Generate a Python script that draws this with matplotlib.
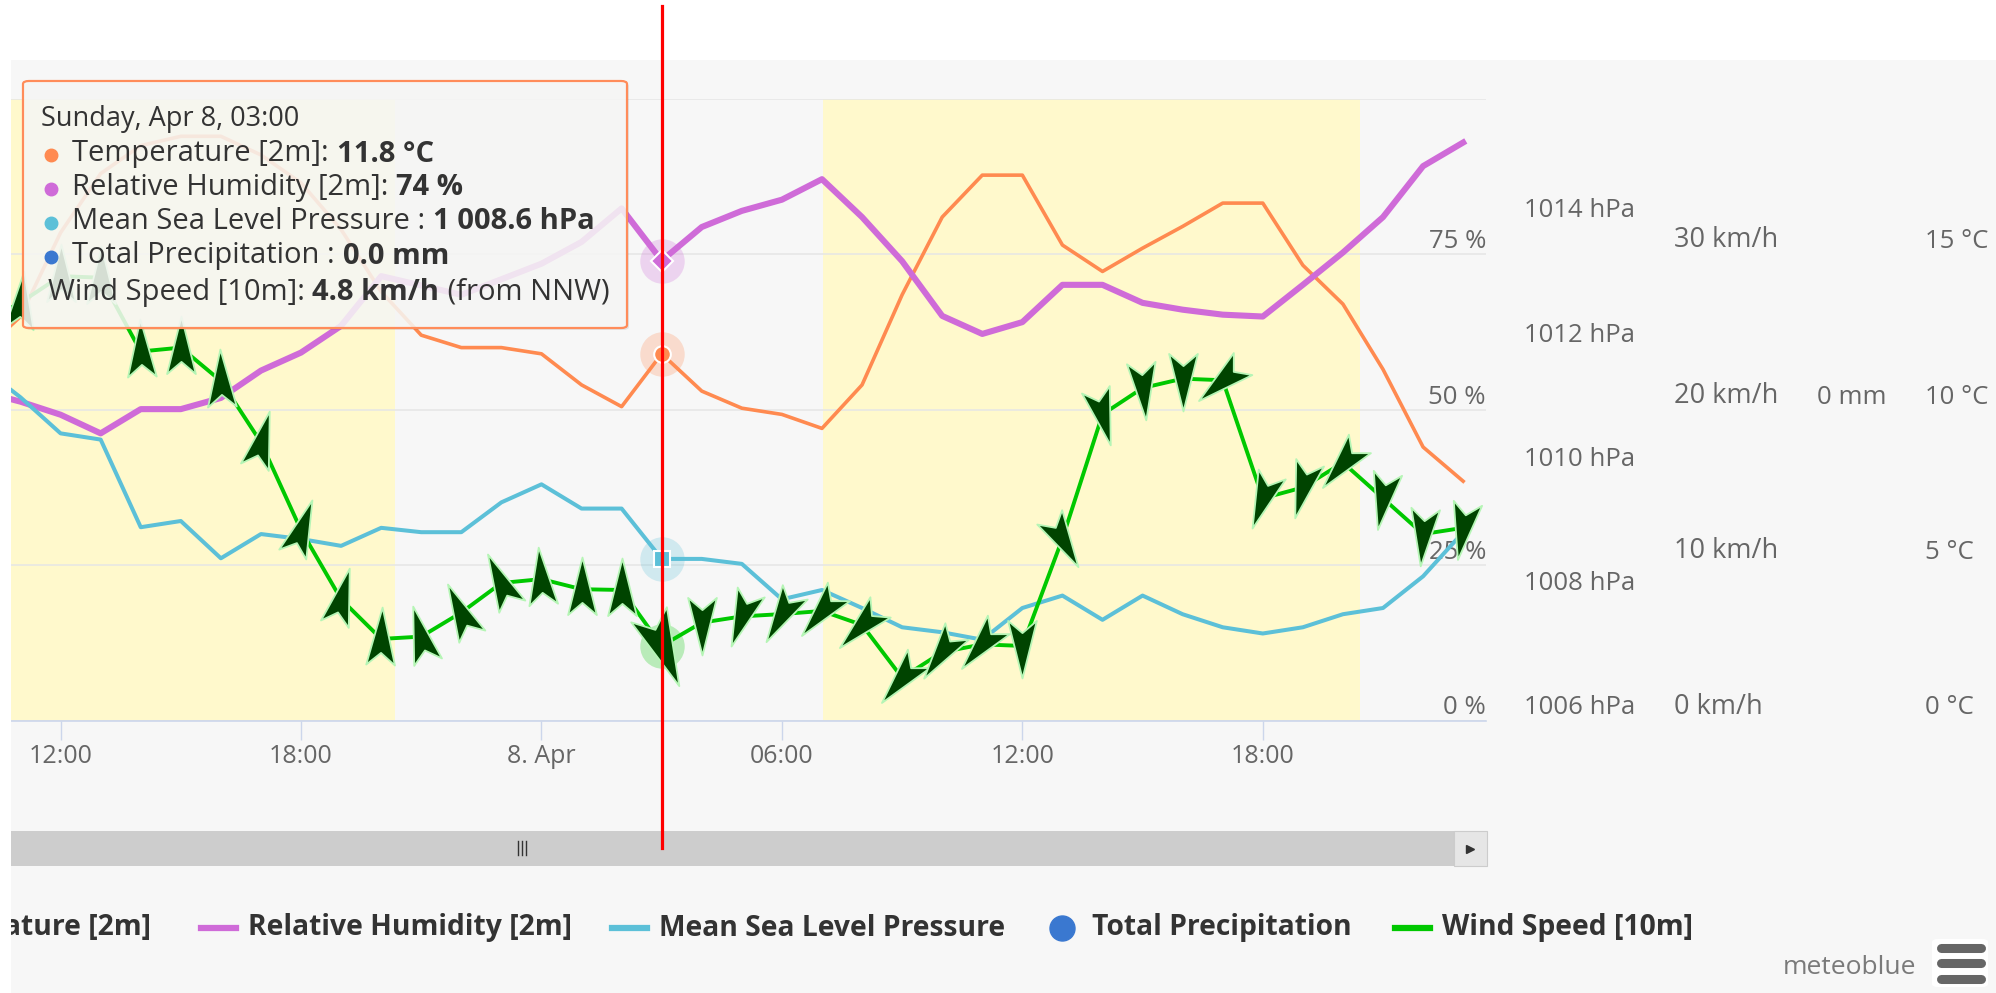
import matplotlib
matplotlib.use("Agg")
import matplotlib.pyplot as plt
from matplotlib.patches import Rectangle, FancyBboxPatch
from matplotlib.lines import Line2D
from matplotlib.markers import MarkerStyle
from matplotlib.path import Path

# ---------------- data (hours relative to 8 Apr 00:00) ----------------
hours = [-14, -13, -12, -11, -10, -9, -8, -7, -6, -5, -4, -3, -2, -1,
         0, 1, 2, 3, 4, 5, 6, 7, 8, 9, 10, 11, 12, 13, 14, 15, 16, 17,
         18, 19, 20, 21, 22, 23]
temperature = [11.8, 13.0, 15.7, 17.6, 18.5, 18.8, 18.8, 18.2, 17.3, 15.8,
               13.8, 12.4, 12.0, 12.0, 11.8, 10.8, 10.1, 11.8, 10.6, 10.05,
               9.85, 9.4, 10.8, 13.7, 16.2, 17.55, 17.55, 15.3, 14.45, 15.2,
               15.9, 16.65, 16.65, 14.65, 13.4, 11.3, 8.8, 7.7]
humidity = [53.0, 51.3, 49.2, 46.2, 50.1, 50.1, 51.9, 56.3, 59.2, 63.5,
            71.5, 70.0, 68.5, 71.0, 73.5, 77.0, 82.4, 74.0, 79.4, 82.0,
            83.8, 87.1, 81.0, 73.9, 65.1, 62.2, 64.1, 70.1, 70.1, 67.2,
            66.1, 65.3, 65.0, 70.1, 75.3, 81.0, 89.2, 93.0]
pressure = [1011.7, 1011.2, 1010.62, 1010.52, 1009.11, 1009.21, 1008.61,
            1009.0, 1008.92, 1008.81, 1009.1, 1009.03, 1009.03, 1009.51,
            1009.8, 1009.41, 1009.41, 1008.6, 1008.6, 1008.52, 1007.95,
            1008.1, 1007.81, 1007.5, 1007.42, 1007.3, 1007.81, 1008.01,
            1007.62, 1008.01, 1007.71, 1007.5, 1007.4, 1007.5, 1007.71,
            1007.81, 1008.32, 1009.03]
wind_speed = [25.5, 26.9, 28.6, 28.5, 23.75, 24.0, 21.85, 17.9, 12.25, 7.8,
              5.25, 5.4, 6.95, 8.85, 9.1, 8.45, 8.4, 4.8, 6.3, 6.7, 6.85,
              7.05, 6.15, 2.75, 4.4, 4.9, 4.8, 11.7, 19.7, 21.4, 22.0, 21.9,
              14.3, 15.0, 16.6, 14.3, 12.0, 12.4]
wind_from = [185, 185, 180, 180, 178, 180, 178, 195, 200, 195, 182, 165,
             155, 155, 175, 180, 180, 337, 0, 20, 30, 40, 45, 40, 35, 40, 0,
             330, 345, 355, 0, 50, 20, 15, 40, 10, 5, 10]
tooltip_precip = 0.0
hover_hour = 3

day_start = [-16.0, 7.02]
day_end = [-3.65, 20.42]

x_tick_hours = [-12, -6, 0, 6, 12, 18]
x_tick_labels = ["12:00", "18:00", "8. Apr", "06:00", "12:00", "18:00"]
hum_ticks = [0, 25, 50, 75, 100]
hum_labels = ["0 %", "25 %", "50 %", "75 %", ""]
temp_ticks = [0, 5, 10, 15, 20]
temp_labels = ["0 °C", "5 °C", "10 °C", "15 °C", ""]
pres_ticks = [1006, 1008, 1010, 1012, 1014, 1016]
pres_labels = ["1006 hPa", "1008 hPa", "1010 hPa", "1012 hPa", "1014 hPa", ""]
wind_ticks = [0, 10, 20, 30, 40]
wind_labels = ["0 km/h", "10 km/h", "20 km/h", "30 km/h", ""]
prec_ticks = [0]
prec_labels = ["0 mm"]

legend_names = ["Temperature [2m]", "Relative Humidity [2m]",
                "Mean Sea Level Pressure", "Total Precipitation",
                "Wind Speed [10m]"]

# ---------------- styling ----------------
C_T = "#ff8a50"
C_H = "#cf6bd8"
C_P = "#5cc0d8"
C_R = "#3a78d0"
C_W = "#00c800"
C_ARROW = "#004400"
C_DAY = "#fff9cc"
BG = "#f7f7f7"
TXT = "#666666"
FS = 18.5

plt.rcParams["font.family"] = ["Open Sans", "DejaVu Sans"]

W, H, DPI = 1996, 993, 100
fig = plt.figure(figsize=(W / DPI, H / DPI), dpi=DPI)
fig.patch.set_facecolor("white")


def add_rect(x0, y0, x1, y1, z=-1, **kw):
    p = Rectangle((x0 / W, 1 - y1 / H), (x1 - x0) / W, (y1 - y0) / H,
                  transform=fig.transFigure, zorder=z, **kw)
    fig.add_artist(p)
    return p


# chart background
add_rect(10.5, 60, W, H, z=-5, facecolor=BG, edgecolor="none")

L, R, T, B = 10.5, 1486, 99, 720.5
ax0 = fig.add_axes([L / W, 1 - B / H, (R - L) / W, (B - T) / H])
ax_h = ax0.twinx()
ax_p = ax0.twinx()
ax_r = ax0.twinx()
ax_w = ax0.twinx()

ax0.set_facecolor(BG)
ax0.set_xlim(-13.25, 23.57)
ax0.set_ylim(0, 20)
ax_h.set_ylim(0, 100)
ax_p.set_ylim(1006, 1016)
ax_r.set_ylim(-1, 1)
ax_w.set_ylim(0, 40)

for a in (ax0, ax_h, ax_p, ax_r, ax_w):
    for s in ("top", "left", "right"):
        a.spines[s].set_visible(False)
    if a is not ax0:
        a.spines["bottom"].set_visible(False)
ax0.spines["bottom"].set_color("#ccd6eb")
ax0.spines["bottom"].set_linewidth(1.2)

# daylight bands
for s0, s1 in zip(day_start, day_end):
    ax0.axvspan(s0, s1, color=C_DAY, lw=0, zorder=0.2)

# grid + x axis
ax0.yaxis.tick_right()
ax0.set_yticks(temp_ticks, temp_labels, va="bottom")
ax0.grid(axis="y", color="#e6e6e6", lw=1.1)
ax0.set_xticks(x_tick_hours, x_tick_labels)
ax0.tick_params(axis="x", direction="out", length=14, width=1,
                color="#ccd6eb", labelcolor=TXT, labelsize=18, pad=3)
ax0.tick_params(axis="y", length=0, pad=316, labelcolor=TXT, labelsize=FS)

ax_h.set_yticks(hum_ticks, hum_labels, va="bottom", ha="right")
ax_h.tick_params(axis="y", length=0, pad=0, labelcolor=TXT, labelsize=FS)
ax_p.set_yticks(pres_ticks, pres_labels, va="bottom")
ax_p.tick_params(axis="y", length=0, pad=27.4, labelcolor=TXT, labelsize=FS)
ax_r.set_yticks(prec_ticks, prec_labels, va="bottom")
ax_r.tick_params(axis="y", length=0, pad=238, labelcolor=TXT, labelsize=FS)
ax_w.set_yticks(wind_ticks, wind_labels, va="bottom")
ax_w.tick_params(axis="y", length=0, pad=135.4, labelcolor=TXT, labelsize=19.5)

# ---------------- series ----------------
ax0.plot(hours, temperature, color=C_T, lw=2.6, zorder=3, solid_joinstyle="round")
ax_h.plot(hours, humidity, color=C_H, lw=4.4, zorder=3, solid_joinstyle="round")
ax_p.plot(hours, pressure, color=C_P, lw=2.9, zorder=3, solid_joinstyle="round")
ax_w.plot(hours, wind_speed, color=C_W, lw=2.8, zorder=3, solid_joinstyle="round")

arrow_path = Path([(0, 1), (0.45, -0.8), (0, -0.42), (-0.45, -0.8), (0, 1)],
                  [Path.MOVETO, Path.LINETO, Path.LINETO, Path.LINETO, Path.CLOSEPOLY])
hi = hours.index(hover_hour)
for i, (hx, ws, wd) in enumerate(zip(hours, wind_speed, wind_from)):
    ms = 46
    if i == hi:
        ax_w.plot([hx], [ws], marker="o", ms=32, color=C_W, alpha=0.25,
                  mec="none", zorder=4)
        ms = 62
    m = MarkerStyle(arrow_path).rotated(deg=-(wd + 180))
    ax_w.plot([hx], [ws], marker=m, ms=ms, mfc=C_ARROW, mec="#b5f5b5",
              mew=1.3, ls="none", zorder=5)

# hover markers
ax0.plot([hours[hi]], [temperature[hi]], marker="o", ms=32, color=C_T, alpha=0.25, mec="none", zorder=4)
ax0.plot([hours[hi]], [temperature[hi]], marker="o", ms=12, color=C_T, mec="white", mew=1.5, zorder=5)
ax_h.plot([hours[hi]], [humidity[hi]], marker="o", ms=32, color=C_H, alpha=0.25, mec="none", zorder=4)
ax_h.plot([hours[hi]], [humidity[hi]], marker="D", ms=11, color=C_H, mec="white", mew=1.5, zorder=5)
ax_p.plot([hours[hi]], [pressure[hi]], marker="o", ms=32, color=C_P, alpha=0.25, mec="none", zorder=4)
ax_p.plot([hours[hi]], [pressure[hi]], marker="s", ms=12, color=C_P, mec="white", mew=1.5, zorder=5)

# ---------------- crosshair line ----------------
xf = fig.transFigure.inverted().transform(ax0.transData.transform((hours[hi], 0)))[0]
fig.add_artist(Line2D([xf, xf], [1 - 6 / H, 1 - 848 / H], color="#ff0000",
                      lw=2.3, transform=fig.transFigure, zorder=20))

# ---------------- scrollbar ----------------
add_rect(10.5, 831, 1487, 866, z=2, facecolor="#cdcdcd", edgecolor="none")
add_rect(1454, 831, 1487, 866, z=3, facecolor="#e6e6e6", edgecolor="#cccccc", lw=0.8)
fig.add_artist(Line2D([1470 / W], [1 - 848.5 / H], marker=">", ms=6, color="#333333",
                      transform=fig.transFigure, zorder=4))
for gx in (518, 522, 526):
    fig.add_artist(Line2D([gx / W, gx / W], [1 - 841 / H, 1 - 855 / H], color="#333333",
                          lw=1, transform=fig.transFigure, zorder=4))

renderer = fig.canvas.get_renderer()


def text_px(x, y, s, **kw):
    return fig.text(x / W, 1 - y / H, s, **kw)


def seg_line(x, y, segs, size, color="#333333", z=12):
    for s, wt in segs:
        t = text_px(x, y, s, fontsize=size, fontweight=wt, color=color,
                    va="center", ha="left", zorder=z)
        x += t.get_window_extent(renderer).width
    return x


# ---------------- tooltip ----------------
tb = FancyBboxPatch((25 / W, 1 - 330 / H), (629 - 25) / W, (330 - 83) / H,
                    boxstyle="round,pad=0,rounding_size=0.003",
                    transform=fig.transFigure, facecolor="#000000", alpha=0.08,
                    edgecolor="none", zorder=9)
fig.add_artist(tb)
tbox = FancyBboxPatch((23 / W, 1 - 328 / H), (627 - 23) / W, (328 - 81) / H,
                      boxstyle="round,pad=0,rounding_size=0.003",
                      transform=fig.transFigure, facecolor=(0.975, 0.975, 0.97, 0.86),
                      edgecolor="#ff8c5a", lw=1.6, zorder=10)
fig.add_artist(tbox)

TT = 21
text_px(41, 118.5, "Sunday, Apr 8, 03:00", fontsize=19.5, color="#333333",
        va="center", ha="left", zorder=12)


def fmt_thousands(v):
    s = f"{v:,.1f}"
    return s.replace(",", " ")


rows = [
    (C_T, [("Temperature [2m]: ", "normal"), (f"{temperature[hi]:.1f} °C", "bold")], 154),
    (C_H, [("Relative Humidity [2m]: ", "normal"), (f"{humidity[hi]:.0f} %", "bold")], 187.5),
    (C_P, [("Mean Sea Level Pressure : ", "normal"), (f"{fmt_thousands(pressure[hi])} hPa", "bold")], 221.5),
    (C_R, [("Total Precipitation : ", "normal"), (f"{tooltip_precip:.1f} mm", "bold")], 256),
]
for col, segs, yy in rows:
    fig.add_artist(Line2D([51 / W], [1 - (yy + 1) / H], marker="o", ms=9, color=col,
                          transform=fig.transFigure, zorder=12))
    seg_line(72.5, yy, segs, TT)
seg_line(48, 292.5, [("Wind Speed [10m]: ", "normal"), (f"{wind_speed[hi]:.1f} km/h", "bold"),
                     (" (from NNW)", "normal")], TT)

# ---------------- legend ----------------
LY = 928
LFS = 20.3
leg_cols = [C_T, C_H, C_P, C_R, C_W]
leg_text_x = [None, 248, 659, 1092, 1442]
for name, col, tx in zip(legend_names, leg_cols, leg_text_x):
    if tx is None:
        text_px(151.5, LY, name, fontsize=LFS, fontweight="bold", color="#333333",
                va="center", ha="right", zorder=3)
        continue
    text_px(tx, LY, name, fontsize=LFS, fontweight="bold", color="#333333",
            va="center", ha="left", zorder=3)
    if col == C_R:
        fig.add_artist(Line2D([(tx - 30) / W], [1 - LY / H], marker="o", ms=18,
                              color=col, transform=fig.transFigure, zorder=3))
    else:
        fig.add_artist(Line2D([(tx - 47) / W, (tx - 12) / W], [1 - LY / H, 1 - LY / H],
                              color=col, lw=4.5, transform=fig.transFigure, zorder=3))

# meteoblue credit + menu icon
text_px(1916, 967, "meteoblue", fontsize=19, color="#7a7a7a", va="center", ha="right", zorder=3)
menu = FancyBboxPatch((1932 / W, 1 - 987 / H), (1988 - 1932) / W, (987 - 939) / H,
                      boxstyle="round,pad=0,rounding_size=0.003", transform=fig.transFigure,
                      facecolor="white", edgecolor="none", zorder=3)
fig.add_artist(menu)
for by in (948, 963, 979):
    fig.add_artist(Line2D([1941 / W, 1981 / W], [1 - by / H, 1 - by / H], color="#666666",
                          lw=6.5, solid_capstyle="round", transform=fig.transFigure, zorder=4))

# left white strip (chart is scrolled / clipped)
add_rect(0, 0, 10.5, H, z=30, facecolor="white", edgecolor="none")

fig.savefig("out.png", dpi=DPI, facecolor=fig.get_facecolor())
